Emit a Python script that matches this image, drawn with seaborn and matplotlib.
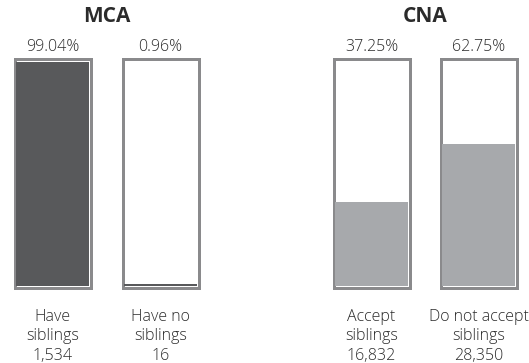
import matplotlib
matplotlib.use("Agg")
import matplotlib.pyplot as plt
import matplotlib.transforms as mtransforms
import pandas as pd
import seaborn as sns

# Panel data: share of respondents in each group, with raw counts
panel_titles = ["MCA", "CNA"]

mca_labels = ["Have\nsiblings", "Have no\nsiblings"]
mca_counts = [1534, 16]
mca_pct = [99.04, 0.96]

cna_labels = ["Accept\nsiblings", "Do not accept\nsiblings"]
cna_counts = [16832, 28350]
cna_pct = [37.25, 62.75]

sns.set_theme(style="white")
plt.rcParams["font.family"] = ["Open Sans", "DejaVu Sans"]

W, H = 529, 363
fig = plt.figure(figsize=(W / 100, H / 100), dpi=100)
fig.patch.set_facecolor("white")

text_color = "#2b2b2b"
frame_color = "#8a8a8c"
fill_colors = ["#58595b", "#a7a9ac"]

# vertical scale: interior 0..100 spans pixel rows 286..60 (from top)
px_per_unit = (286 - 60) / 100.0
frame_lw_px = 3.0
pad = (frame_lw_px / 2) / px_per_unit
y_lo = -(H - 286) / px_per_unit
y_hi = 100 + 60 / px_per_unit

panels = [
    (mca_labels, mca_counts, mca_pct, fill_colors[0], 0, 216, 52.5, 108),
    (cna_labels, cna_counts, cna_pct, fill_colors[1], 318, 211, 371.5, 107),
]

for title, (labels, counts, pct, fill, left, width, c0, step) in zip(panel_titles, panels):
    ax = fig.add_axes([left / W, 0, width / W, 1])
    df = pd.DataFrame({"group": labels, "pct": pct, "count": counts})
    df["frame"] = 100 + 2 * pad

    outer_w = (79 - frame_lw_px) / step
    inner_w = (79 - 2 * frame_lw_px) / step

    # white boxes with grey frame
    sns.barplot(data=df, x="group", y="frame", ax=ax, color="white",
                saturation=1, width=outer_w, edgecolor=frame_color,
                linewidth=frame_lw_px * 72 / 100, bottom=-pad,
                errorbar=None, zorder=1)
    # filled share inside each box
    sns.barplot(data=df, x="group", y="pct", ax=ax, color=fill,
                saturation=1, width=inner_w, linewidth=0,
                errorbar=None, zorder=2)

    ax.set_xlim(-(c0 - left) / step, (left + width - c0) / step)
    ax.set_ylim(y_lo, y_hi)
    ax.axis("off")

    trans = mtransforms.blended_transform_factory(ax.transData, ax.transAxes)
    ax.text(0.5, 1 - 17 / H, title, transform=trans, ha="center",
            va="center", fontsize=15, fontweight="bold", color=text_color)
    for i, row in df.iterrows():
        ax.text(i, 1 - 47 / H, f"{row['pct']:.2f}%", transform=trans,
                ha="center", va="center", fontsize=11.5, fontweight="light",
                color=text_color)
        ax.text(i, 1 - 336.5 / H, f"{row['group']}\n{row['count']:,}",
                transform=trans, ha="center", va="center", fontsize=11.5,
                fontweight="light", linespacing=1.32, color=text_color)

fig.savefig("out.png", dpi=100, facecolor="white")
